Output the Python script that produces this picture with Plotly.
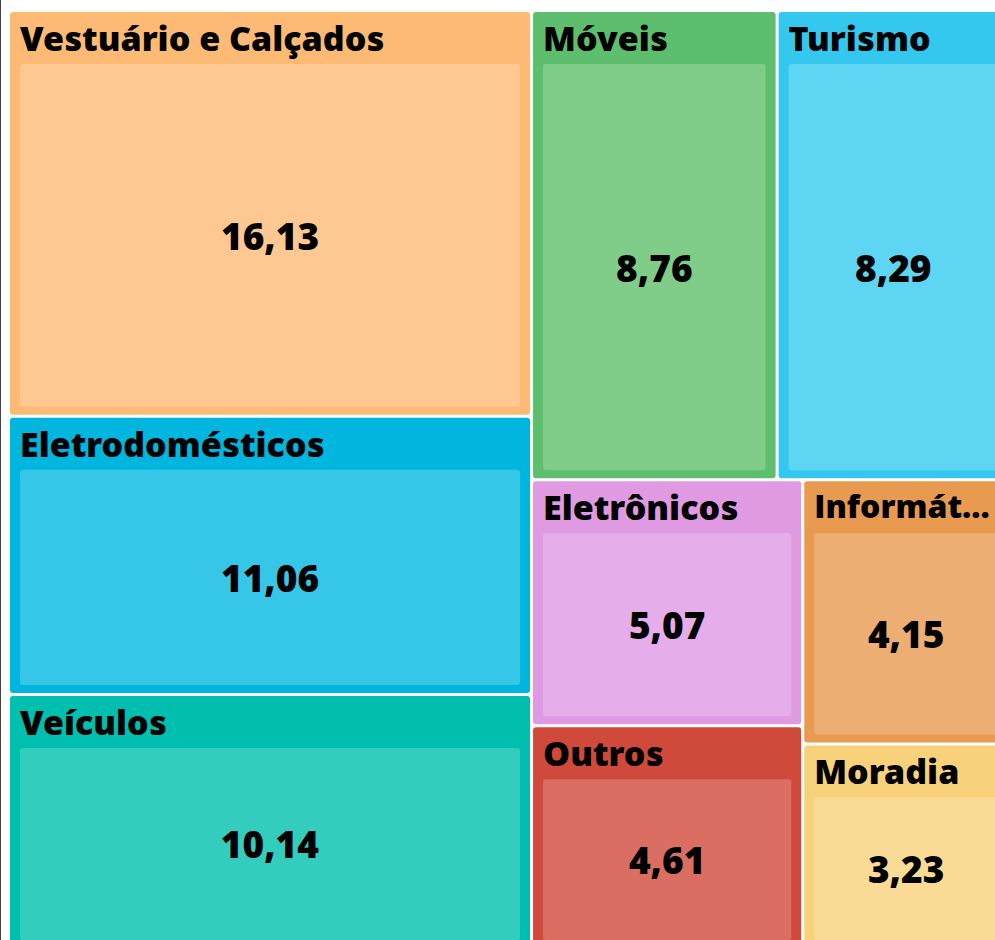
import plotly.graph_objects as go

categories = ["Vestuário e Calçados", "Eletrodomésticos", "Veículos", "Móveis", "Turismo",
              "Eletrônicos", "Outros", "Informática", "Moradia"]
header_labels = ["Vestuário e Calçados", "Eletrodomésticos", "Veículos", "Móveis", "Turismo",
                 "Eletrônicos", "Outros", "Informát...", "Moradia"]
header_sizes = [34, 34, 34, 34, 34, 34, 34, 32, 34]
values = [16.13, 11.06, 10.14, 8.76, 8.29, 5.07, 4.61, 4.15, 3.23]
value_labels = ["16,13", "11,06", "10,14", "8,76", "8,29", "5,07", "4,61", "4,15", "3,23"]
outer_colors = ["#FDBA74", "#00B6DF", "#00BFAE", "#5DBF6E", "#35C8EE",
                "#E09AE2", "#D04A3C", "#E89B50", "#F7D27A"]
inner_colors = ["#FDC891", "#35C6E8", "#33CDBE", "#7FCD89", "#5DD5F3",
                "#E6ADEB", "#DA6E62", "#ECAE73", "#F9DB95"]

FONT = "Open Sans ExtraBold, Open Sans"

ids, parents, vals = [], [], []
fill, head_text, leaf_text, sizes, head_col, leaf_col = [], [], [], [], [], []
for c, h, hs, v, oc in zip(categories, header_labels, header_sizes, values, outer_colors):
    ids.append(c); parents.append(""); vals.append(v)
    fill.append(oc); head_text.append(h); leaf_text.append(" "); sizes.append(hs)
    head_col.append("black"); leaf_col.append("rgba(0,0,0,0)")
for c, v, t, ic in zip(categories, values, value_labels, inner_colors):
    ids.append(c + "/v"); parents.append(c); vals.append(v)
    fill.append(ic); head_text.append(" "); leaf_text.append(t); sizes.append(37)
    head_col.append("rgba(0,0,0,0)"); leaf_col.append("black")

pad = dict(t=52, l=10, r=10, b=8)
tiling = dict(packing="squarify", squarifyratio=1.618, pad=3)

# tiles + category headers
fig = go.Figure(go.Treemap(
    ids=ids, labels=head_text, parents=parents, values=vals,
    branchvalues="total",
    text=head_text, texttemplate="%{text}",
    textposition="top left",
    marker=dict(colors=fill, line=dict(width=0), pad=pad, cornerradius=3),
    tiling=tiling,
    pathbar=dict(visible=False),
    textfont=dict(family=FONT, size=sizes, color=head_col, weight=800),
    insidetextfont=dict(family=FONT, size=sizes, color=head_col, weight=800),
    root=dict(color="white"),
    hoverinfo="skip",
))
# centred values
fig.add_trace(go.Treemap(
    ids=ids, labels=leaf_text, parents=parents, values=vals,
    branchvalues="total",
    text=leaf_text, texttemplate="%{text}",
    textposition="middle center",
    marker=dict(colors=["rgba(0,0,0,0)"] * len(ids), line=dict(width=0), pad=pad),
    tiling=tiling,
    pathbar=dict(visible=False),
    textfont=dict(family=FONT, size=sizes, color=leaf_col, weight=800),
    insidetextfont=dict(family=FONT, size=sizes, color=leaf_col, weight=800),
    root=dict(color="rgba(0,0,0,0)"),
    hoverinfo="skip",
))

fig.update_layout(
    width=1018, height=996,
    margin=dict(l=0, r=0, t=0, b=0),
    paper_bgcolor="white",
)

post = ("var gd=document.getElementById('{plot_id}');"
        "document.documentElement.style.overflow='hidden';"
        "document.body.style.margin='0';document.body.style.overflow='hidden';"
        "gd.style.position='absolute';gd.style.left='0px';gd.style.top='-40px';")

fig.write_html("out.html", post_script=post)
